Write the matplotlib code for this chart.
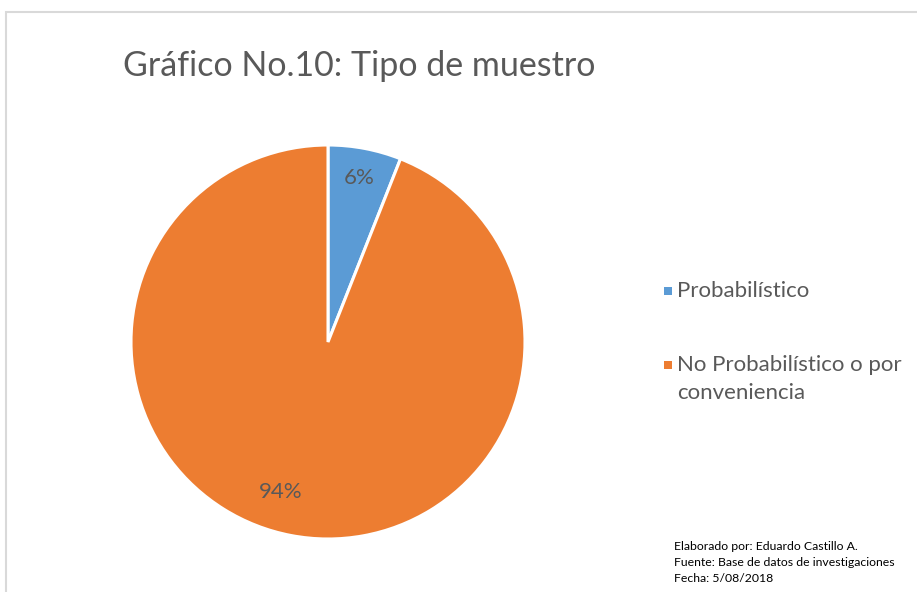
import matplotlib
matplotlib.use("Agg")
from matplotlib import pyplot as plt
from matplotlib.patches import Rectangle
import numpy as np

# data
categorias = ["Probabilístico", "No Probabilístico o por\nconveniencia"]
valores = [6, 94]
colores = ["#5B9BD5", "#ED7D31"]
titulo = "Gráfico No.10: Tipo de muestro"
nota = ["Elaborado por: Eduardo Castillo A.",
        "Fuente: Base de datos de investigaciones",
        "Fecha: 5/08/2018"]

plt.rcParams["font.family"] = ["Lato", "DejaVu Sans"]
gris = "#595959"

fig = plt.figure(figsize=(9.17, 5.92), dpi=100)
W, H = 917, 592

# chart border (cut at the right and bottom)
fig.patches.append(Rectangle((6 / W, -0.1), 1.2, 1 - 12 / H + 0.1, transform=fig.transFigure,
                             fill=False, edgecolor="#D9D9D9", linewidth=1.5))

cx, cy, r = 328, 342, 197
ax = fig.add_axes([(cx - r) / W, 1 - (cy + r) / H, 2 * r / W, 2 * r / H])
wedges, textos, pcts = ax.pie(valores, colors=colores, startangle=90, counterclock=False,
                              autopct="%1.0f%%", pctdistance=0.85,
                              wedgeprops=dict(edgecolor="white", linewidth=2.2),
                              textprops=dict(color=gris, fontsize=16))
# Excel "best fit" puts the big label a bit further round
ang = np.deg2rad(-107.5)
pcts[1].set_position((0.8 * np.cos(ang), 0.8 * np.sin(ang)))
ax.set_xlim(-1, 1)
ax.set_ylim(-1, 1)
ax.set_aspect("equal")

fig.text(123 / W, 1 - 66 / H, titulo, fontsize=24.5, color=gris, va="center", ha="left")

# legend drawn by hand
ys = [291, 365]
for w, lab, y in zip(wedges, categorias, ys):
    fig.patches.append(Rectangle((664 / W, 1 - (y + 4) / H), 8 / W, 8 / H, transform=fig.transFigure,
                                 facecolor=w.get_facecolor(), edgecolor="none"))
    for k, linea in enumerate(lab.split("\n")):
        fig.text(677 / W, 1 - (y + 28 * k) / H, linea, fontsize=16, color=gris, va="center", ha="left")

for i, linea in enumerate(nota):
    fig.text(674 / W, 1 - (547 + 16 * i) / H, linea, fontsize=8.8, color="black", va="center", ha="left")

fig.savefig("out.png", dpi=100, facecolor="white")
